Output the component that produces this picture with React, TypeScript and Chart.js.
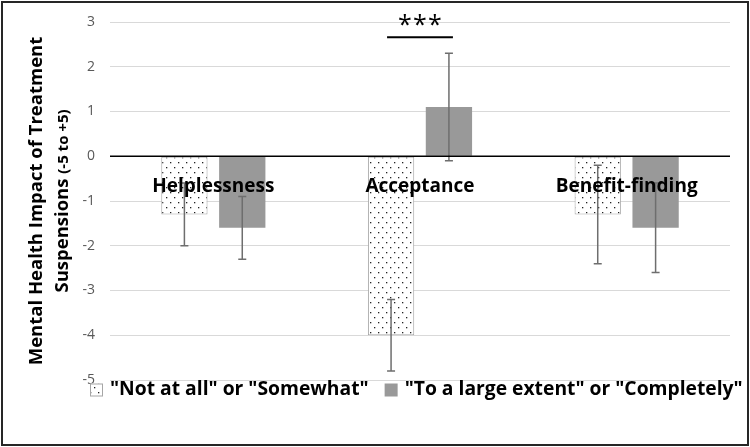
import React, { useEffect, useRef } from "react";
import { Chart, registerables } from "chart.js";

Chart.register(...registerables);

const categories = ["Helplessness", "Acceptance", "Benefit-finding"];
const seriesNames = ['"Not at all" or "Somewhat"', '"To a large extent" or "Completely"'];
const notAtAll = [-1.3, -4.0, -1.3];
const largeExtent = [-1.6, 1.1, -1.6];
const errNotAtAll = [0.7, 0.8, 1.1];
const errLargeExtent = [0.7, 1.2, 1.0];
const yMin = -5;
const yMax = 3;
const significanceIndex = 1;
const significanceText = "***";
const yTitleLine1 = "Mental Health Impact of Treatment";
const yTitleLine2a = "Suspensions ";
const yTitleLine2b = "(-5 to +5)";

const FONT = "'Open Sans', 'DejaVu Sans', sans-serif";

function makeDotPattern(): CanvasPattern | string {
  const c = document.createElement("canvas");
  c.width = 8;
  c.height = 10;
  const g = c.getContext("2d");
  if (!g) return "#fff";
  g.fillStyle = "#ffffff";
  g.fillRect(0, 0, 8, 10);
  g.fillStyle = "#222";
  g.fillRect(2, 2, 1.3, 1.3);
  g.fillRect(6, 7, 1.3, 1.3);
  const p = g.createPattern(c, "repeat");
  return p || "#fff";
}

export default function App() {
  const ref = useRef<HTMLCanvasElement | null>(null);

  useEffect(() => {
    document.body.style.margin = "0";
    const canvas = ref.current;
    if (!canvas) return;
    const dots = makeDotPattern();
    const errs = [errNotAtAll, errLargeExtent];

    const overlay = {
      id: "overlay",
      afterDatasetsDraw(chart: any) {
        const ctx = chart.ctx;
        const y = chart.scales.y;
        const x = chart.scales.x;
        const area = chart.chartArea;
        ctx.save();
        // error bars
        ctx.strokeStyle = "#6e6e6e";
        ctx.lineWidth = 1.5;
        chart.data.datasets.forEach((ds: any, di: number) => {
          const meta = chart.getDatasetMeta(di);
          meta.data.forEach((bar: any, i: number) => {
            const v = ds.data[i];
            const e = errs[di][i];
            const yt = y.getPixelForValue(v + e);
            const yb = y.getPixelForValue(v - e);
            const bx = bar.x;
            ctx.beginPath();
            ctx.moveTo(bx, yt);
            ctx.lineTo(bx, yb);
            ctx.moveTo(bx - 4, yt);
            ctx.lineTo(bx + 4, yt);
            ctx.moveTo(bx - 4, yb);
            ctx.lineTo(bx + 4, yb);
            ctx.stroke();
          });
        });
        // zero line
        const y0 = y.getPixelForValue(0);
        ctx.strokeStyle = "#000";
        ctx.lineWidth = 1.5;
        ctx.beginPath();
        ctx.moveTo(area.left, y0);
        ctx.lineTo(area.right, y0);
        ctx.stroke();
        // category labels
        ctx.fillStyle = "#000";
        ctx.font = `bold 19px ${FONT}`;
        ctx.textAlign = "center";
        ctx.textBaseline = "middle";
        categories.forEach((_c: string, i: number) => {
          ctx.fillText(String(x.getLabelForValue(i)), x.getPixelForValue(i), y0 + 30);
        });
        ctx.restore();
      },
      afterDraw(chart: any) {
        const ctx = chart.ctx;
        const y = chart.scales.y;
        const area = chart.chartArea;
        ctx.save();
        // y tick labels
        ctx.fillStyle = "#595959";
        ctx.font = `14px ${FONT}`;
        ctx.textAlign = "right";
        ctx.textBaseline = "middle";
        y.ticks.forEach((t: any) => {
          ctx.fillText(String(t.value), area.left - 15, y.getPixelForValue(t.value));
        });
        // significance
        const b0 = chart.getDatasetMeta(0).data[significanceIndex];
        const b1 = chart.getDatasetMeta(1).data[significanceIndex];
        const ly = y.getPixelForValue(2.66);
        ctx.strokeStyle = "#000";
        ctx.lineWidth = 2;
        ctx.beginPath();
        ctx.moveTo(b0.x - 4, ly);
        ctx.lineTo(b1.x + 4, ly);
        ctx.stroke();
        ctx.fillStyle = "#000";
        ctx.font = `25px ${FONT}`;
        ctx.textAlign = "center";
        ctx.textBaseline = "middle";
        const cx = (b0.x + b1.x) / 2;
        const sy = y.getPixelForValue(2.92);
        const chars = significanceText.split("");
        chars.forEach((ch: string, k: number) => {
          ctx.fillText(ch, cx + (k - (chars.length - 1) / 2) * 15, sy);
        });

        // y title
        const midY = (area.top + area.bottom) / 2;
        ctx.save();
        ctx.translate(37, midY);
        ctx.rotate(-Math.PI / 2);
        ctx.textAlign = "center";
        ctx.textBaseline = "middle";
        ctx.fillStyle = "#000";
        ctx.font = `bold 18.5px ${FONT}`;
        ctx.fillText(yTitleLine1, 0, 0);
        ctx.restore();
        ctx.save();
        ctx.translate(63, midY);
        ctx.rotate(-Math.PI / 2);
        ctx.textBaseline = "middle";
        ctx.fillStyle = "#000";
        ctx.font = `bold 18.5px ${FONT}`;
        const wa = ctx.measureText(yTitleLine2a).width;
        ctx.font = `bold 15px ${FONT}`;
        const wb = ctx.measureText(yTitleLine2b).width;
        const start = -(wa + wb) / 2;
        ctx.textAlign = "left";
        ctx.font = `bold 18.5px ${FONT}`;
        ctx.fillText(yTitleLine2a, start, 0);
        ctx.font = `bold 15px ${FONT}`;
        ctx.fillText(yTitleLine2b, start + wa, 1);
        ctx.restore();

        // legend
        const legY = y.getPixelForValue(yMin) + 10;
        ctx.font = `bold 19.3px ${FONT}`;
        ctx.textAlign = "left";
        ctx.textBaseline = "middle";
        const w0 = ctx.measureText(seriesNames[0]).width;
        const box = 13;
        const gapBox = 7;
        const gapItem = 16;
        let lx = area.left - 20;
        ctx.fillStyle = dots as any;
        ctx.fillRect(lx, legY - box / 2, box, box);
        ctx.strokeStyle = "#a6a6a6";
        ctx.lineWidth = 1;
        ctx.strokeRect(lx + 0.5, legY - box / 2 + 0.5, box - 1, box - 1);
        ctx.fillStyle = "#000";
        ctx.fillText(seriesNames[0], lx + box + gapBox, legY);
        lx += box + gapBox + w0 + gapItem;
        ctx.fillStyle = "#999999";
        ctx.fillRect(lx, legY - box / 2, box, box);
        ctx.fillStyle = "#000";
        ctx.fillText(seriesNames[1], lx + box + gapBox, legY);

        // border
        ctx.strokeStyle = "#262626";
        ctx.lineWidth = 2;
        ctx.strokeRect(2, 2, chart.width - 4, chart.height - 4);
        ctx.restore();
      },
    };

    const chart = new Chart(canvas, {
      type: "bar",
      data: {
        labels: categories,
        datasets: [
          {
            label: seriesNames[0],
            data: notAtAll,
            backgroundColor: dots as any,
            borderColor: "#a6a6a6",
            borderWidth: 1,
            borderSkipped: false,
            categoryPercentage: 0.56,
            barPercentage: 0.8,
          },
          {
            label: seriesNames[1],
            data: largeExtent,
            backgroundColor: "#999999",
            borderWidth: 0,
            categoryPercentage: 0.56,
            barPercentage: 0.8,
          },
        ],
      },
      options: {
        responsive: false,
        animation: false,
        devicePixelRatio: 1,
        layout: { padding: { left: 0, right: 20, top: 22, bottom: 67 } },
        plugins: {
          legend: { display: false },
          tooltip: { enabled: false },
          title: { display: false },
        },
        scales: {
          x: {
            position: { y: 0 } as any,
            grid: { display: false, drawTicks: false },
            border: { display: false },
            ticks: { display: false },
          },
          y: {
            min: yMin,
            max: yMax,
            afterFit(scale: any) {
              scale.width = 110;
            },
            grid: { color: "#d9d9d9", lineWidth: 1, drawTicks: false },
            border: { display: false },
            ticks: {
              stepSize: 1,
              color: "rgba(0,0,0,0)",
              font: { family: FONT, size: 14 },
            },
          },
        },
      },
      plugins: [overlay],
    });
    return () => chart.destroy();
  }, []);

  return (
    <div style={{ width: 750, height: 447, background: "#fff" }}>
      <canvas ref={ref} width={750} height={447} style={{ display: "block" }} />
    </div>
  );
}
